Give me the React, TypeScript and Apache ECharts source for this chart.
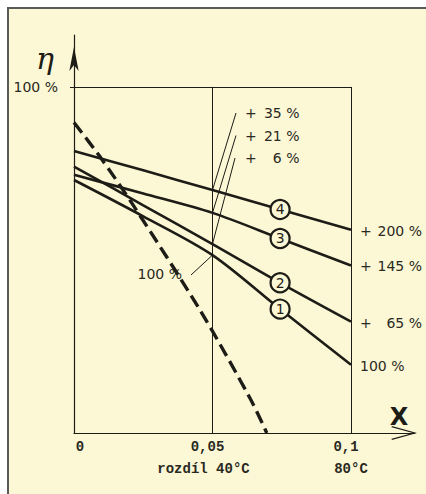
import React, { useEffect, useRef } from "react";
import * as echarts from "echarts";

// ---- data ----
const xTicks = [0, 0.05, 0.1];
const xTickLabels = ["0", "0,05", "0,1"];
const xSubLabels = ["", "rozdíl 40°C", "80°C"];
const yTickValues = [100];
const yTickLabels = ["100 %"];
const frameX = [0.05, 0.1];
const frameTop = 100;

const curveNames = ["1", "2", "3", "4"];
const curveX = [0, 0.025, 0.05, 0.0744, 0.1];
const curve1 = [73.1, 62.6, 51.4, 35.8, 19.7];
const curve2 = [77.0, 65.8, 54.6, 43.4, 32.2];
const curve3 = [74.6, 69.2, 63.6, 56.2, 48.4];
const curve4 = [81.5, 75.9, 70.2, 64.6, 58.7];
const curves = [curve1, curve2, curve3, curve4];
const endPlus = [false, true, true, true];
const endGain = ["100 %", "65 %", "145 %", "200 %"];
const midPlus = [false, true, true, true];
const midGain = ["100 %", "6 %", "21 %", "35 %"];

const dashX = [0, 0.0094, 0.0213, 0.0455, 0.0635, 0.0696];
const dashY = [89.7, 79.8, 65.9, 35.5, 10.1, 0];

const X_MAX = 0.123;
const Y_MAX = 115;

// ---- style ----
const INK = "#1d1c17";
const TXT = "#2a2922";
const BG = "#fcf8d6";
const SANS = "'DejaVu Sans', sans-serif";
const MONO = "'Liberation Mono', monospace";

export default function App() {
  const ref = useRef<HTMLDivElement>(null);
  useEffect(() => {
    if (!ref.current) return;
    const chart = echarts.init(ref.current, null, { renderer: "svg" });

    const monoTok = { fontFamily: MONO, fontWeight: "bold", fontSize: 14, color: TXT, lineHeight: 22 };
    const endTok = { fontFamily: SANS, fontSize: 14, color: TXT };

    const lineSeries = curves.map((c, k) => ({
      type: "line",
      name: curveNames[k],
      data: curveX.map((x, i) => [x, c[i]]),
      symbol: "none",
      smooth: 0.3,
      z: 3,
      lineStyle: { color: INK, width: 2.6 },
      endLabel: {
        show: true,
        distance: 9,
        offset: [0, 1],
        formatter: () =>
          endPlus[k] ? `{p|+}{n|${endGain[k]}}` : `{m|${endGain[k]}}`,
        rich: {
          p: { ...endTok, width: 17 },
          n: { ...endTok, width: 45, align: "right" },
          m: { ...endTok },
        },
      },
      markLine:
        k === 0
          ? {
              silent: true,
              symbol: "none",
              label: { show: false },
              lineStyle: { type: "solid", color: INK, width: 1 },
              data: [
                ...frameX.map((fx) => [{ coord: [fx, 0] }, { coord: [fx, frameTop] }]),
                [{ coord: [0, frameTop] }, { coord: [frameX[frameX.length - 1], frameTop] }],
              ],
            }
          : undefined,
    }));

    const option: any = {
      animation: false,
      backgroundColor: "#ffffff",
      grid: { left: 74, top: 35, width: 340.7, height: 398 },
      xAxis: {
        type: "value",
        min: 0,
        max: X_MAX,
        axisLine: { show: true, lineStyle: { color: INK, width: 1.2 } },
        axisTick: { show: false },
        splitLine: { show: false },
        axisLabel: {
          customValues: xTicks,
          showMinLabel: true,
          showMaxLabel: true,
          margin: 3,
          formatter: (v: number) => {
            const i = xTicks.findIndex((t) => Math.abs(t - v) < 1e-9);
            if (i < 0) return "";
            if (i === 0) return `{z|${xTickLabels[i]}}`;
            return `{a|${xTickLabels[i]}}\n{${i === 1 ? "b" : "c"}|${xSubLabels[i]}}`;
          },
          rich: {
            z: { ...monoTok, padding: [0, 0, 0, 12] },
            a: { ...monoTok, padding: [0, 10, 0, 0] },
            b: { ...monoTok, padding: [0, 18, 0, 0] },
            c: { ...monoTok },
          },
        },
      },
      yAxis: {
        type: "value",
        min: 0,
        max: Y_MAX,
        axisLine: {
          show: true,
          lineStyle: { color: INK, width: 1.2 },
          symbol: ["none", "arrow"],
          symbolSize: [7, 24],
          symbolOffset: [0, -12],
        },
        axisTick: { show: true, customValues: yTickValues, length: 4, lineStyle: { color: INK, width: 1 } },
        axisLabel: {
          customValues: yTickValues,
          formatter: (v: number) => {
            const i = yTickValues.indexOf(v);
            return i >= 0 ? yTickLabels[i] : "";
          },
          margin: 16,
          fontFamily: SANS,
          fontSize: 14,
          color: TXT,
          padding: [9, 0, 0, 0],
        },
        splitLine: { show: false },
      },
      series: [
        ...lineSeries,
        {
          type: "line",
          name: "dashed",
          data: dashX.map((x, i) => [x, dashY[i]]),
          symbol: "none",
          smooth: 0.3,
          z: 3,
          lineStyle: { color: INK, width: 3.4, type: [13, 6] },
        },
        {
          type: "scatter",
          name: "markers",
          z: 6,
          symbol: "circle",
          symbolSize: 19,
          itemStyle: { color: BG, borderColor: INK, borderWidth: 2.2, opacity: 1 },
          label: {
            show: true,
            position: "inside",
            formatter: "{b}",
            fontFamily: SANS,
            fontSize: 14,
            color: INK,
          },
          data: curves.map((c, k) => ({ name: curveNames[k], value: [curveX[3], c[3]] })),
        },
      ],
    };
    chart.setOption(option);

    const px = (x: number, y: number) =>
      chart.convertToPixel({ gridIndex: 0 }, [x, y]) as number[];

    const txt = (text: string, x: number, y: number, align: string, extra: any = {}) => ({
      type: "text",
      x,
      y,
      silent: true,
      z: 10,
      style: {
        text,
        fill: TXT,
        fontFamily: SANS,
        fontSize: 14,
        align,
        textAlign: align,
        verticalAlign: "middle",
        textVerticalAlign: "middle",
        ...extra,
      },
    });

    const axisEnd = px(X_MAX, 0);
    const graphics: any[] = [
      {
        type: "rect",
        z: -100,
        silent: true,
        shape: { x: 8, y: 8, width: 440, height: 500 },
        style: { fill: BG, stroke: "#5a5a56", lineWidth: 2 },
      },
      {
        type: "polyline",
        silent: true,
        z: 10,
        shape: {
          points: [
            [axisEnd[0] - 23, axisEnd[1] - 6.3],
            [axisEnd[0], axisEnd[1]],
            [axisEnd[0] - 23, axisEnd[1] + 6.3],
          ],
        },
        style: { stroke: INK, lineWidth: 1.2, fill: "none" },
      },
      txt("η", 45, 58, "center", { fontFamily: "'DejaVu Serif', serif", fontStyle: "italic", fontSize: 30, fill: INK }),
      txt("X", 399, 417, "center", { fontSize: 24, fontWeight: "bold", fill: INK }),
    ];

    // annotation labels at x = 0.05
    const midIdx = 2;
    const topRows = [
      { k: 3, y: 113.3, lx: 236, ly: 113 },
      { k: 2, y: 136, lx: 236, ly: 135.5 },
      { k: 1, y: 157.5, lx: 235, ly: 158 },
    ];
    topRows.forEach((r) => {
      const p = px(curveX[midIdx], curves[r.k][midIdx]);
      graphics.push({
        type: "line",
        silent: true,
        z: 4,
        shape: { x1: r.lx, y1: r.ly, x2: p[0], y2: p[1] },
        style: { stroke: INK, lineWidth: 1 },
      });
      if (midPlus[r.k]) graphics.push(txt("+", 245, r.y, "left"));
      graphics.push(txt(midGain[r.k], 299.5, r.y, "right"));
    });
    const p1 = px(curveX[midIdx], curves[0][midIdx]);
    graphics.push({
      type: "line",
      silent: true,
      z: 4,
      shape: { x1: 191, y1: 275, x2: p1[0], y2: p1[1] },
      style: { stroke: INK, lineWidth: 1 },
    });
    graphics.push(txt(midGain[0], 182, 273.5, "right"));

    chart.setOption({ graphic: graphics });
    return () => chart.dispose();
  }, []);

  return (
    <div
      ref={ref}
      style={{ position: "fixed", left: 0, top: 0, width: 426, height: 494 }}
    />
  );
}
